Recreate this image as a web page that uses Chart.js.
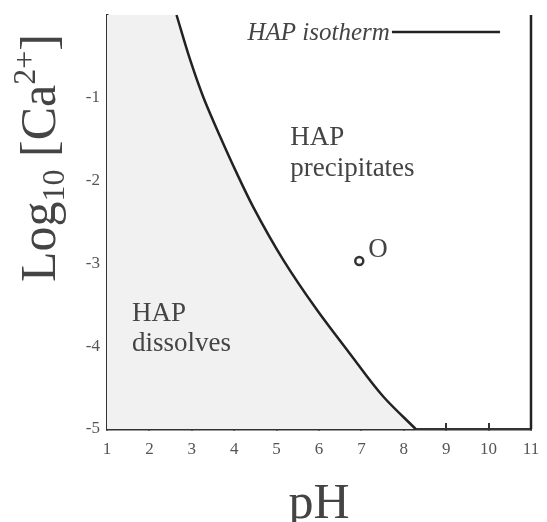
<!DOCTYPE html>
<html>
<head>
<meta charset="utf-8">
<script src="https://cdn.jsdelivr.net/npm/chart.js@4.4.1/dist/chart.umd.min.js"></script>
<style>
  html, body { margin: 0; padding: 0; background: #fff; }
  canvas { display: block; }
</style>
</head>
<body>
<canvas id="chart" width="547" height="522"></canvas>
<script>
// HAP isotherm (pH vs log10 [Ca2+])
const isoPH    = [8.28, 7.52, 6.73, 5.95, 5.16, 4.45, 4.06, 3.67, 3.27, 2.96, 2.64];
const isoLogCa = [-5.00, -4.61, -4.09, -3.56, -2.96, -2.32, -1.91, -1.47, -0.99, -0.54, 0.00];

// vertical line at pH 11
const edgePH    = [11, 11];
const edgeLogCa = [-5, 0];

// point O
const pointPH    = [6.95];
const pointLogCa = [-2.97];

// axis ranges
const phRange = [1, 11];
const caRange = [-5, 0];

// text notes placed in data units
const noteText  = ['HAP', 'precipitates', 'HAP', 'dissolves', 'O'];
const notePH    = [5.32, 5.32, 1.59, 1.59, 7.16];
const noteLogCa = [-1.57, -1.94, -3.70, -4.06, -2.92];

// legend ("HAP isotherm" + sample line)
const legendText = 'HAP isotherm';
const legendTextPH = 7.67;
const legendLine = [7.72, 10.27];
const legendLogCa = -0.205;

const SERIF = '"Liberation Serif", "DejaVu Serif", serif';

const toXY = (xs, ys) => xs.map((x, i) => ({ x: x, y: ys[i] }));

// writes the notes and the legend
const notesPlugin = {
  id: 'notes',
  afterDatasetsDraw(chart) {
    const ctx = chart.ctx;
    const xs = chart.scales.x, ys = chart.scales.y;
    ctx.save();
    ctx.fillStyle = '#444';
    ctx.textBaseline = 'alphabetic';
    ctx.textAlign = 'left';
    ctx.font = '27px ' + SERIF;
    noteText.forEach((t, i) => {
      ctx.fillText(t, xs.getPixelForValue(notePH[i]), ys.getPixelForValue(noteLogCa[i]));
    });

    // legend
    const ly = ys.getPixelForValue(legendLogCa);
    ctx.font = 'italic 25px ' + SERIF;
    ctx.textAlign = 'right';
    ctx.fillText(legendText, xs.getPixelForValue(legendTextPH), ly + 8);
    ctx.strokeStyle = '#222';
    ctx.lineWidth = 2.5;
    ctx.beginPath();
    ctx.moveTo(xs.getPixelForValue(legendLine[0]), ly);
    ctx.lineTo(xs.getPixelForValue(legendLine[1]), ly);
    ctx.stroke();
    ctx.restore();
  }
};

// y axis title with subscript / superscript
const yTitlePlugin = {
  id: 'yTitle',
  afterDraw(chart) {
    const ctx = chart.ctx;
    const parts = [
      ['Log', 50, 0],
      ['10', 32, 9],
      [' [Ca', 50, 0],
      ['2+', 32, -20],
      [']', 50, 0]
    ];
    ctx.save();
    ctx.translate(55, 282);
    ctx.rotate(-Math.PI / 2);
    ctx.fillStyle = '#444';
    ctx.textBaseline = 'alphabetic';
    ctx.textAlign = 'left';
    let x = 0;
    parts.forEach(([t, size, dy]) => {
      ctx.font = size + 'px ' + SERIF;
      ctx.fillText(t, x, dy);
      x += ctx.measureText(t).width;
    });
    ctx.restore();
  }
};

new Chart(document.getElementById('chart'), {
  type: 'line',
  data: {
    datasets: [
      {
        label: 'HAP isotherm',
        data: toXY(isoPH, isoLogCa),
        borderColor: '#222',
        borderWidth: 2.5,
        backgroundColor: '#f1f1f1',
        fill: { value: phRange[0] },
        cubicInterpolationMode: 'monotone',
        pointRadius: 0,
        clip: 4
      },
      {
        label: 'edge',
        data: toXY(edgePH, edgeLogCa),
        borderColor: '#222',
        borderWidth: 2.5,
        pointRadius: 0,
        fill: false,
        clip: 4
      },
      {
        label: 'O',
        data: toXY(pointPH, pointLogCa),
        showLine: false,
        pointRadius: 4,
        pointBorderWidth: 2.5,
        pointBorderColor: '#333',
        pointBackgroundColor: '#fff'
      }
    ]
  },
  options: {
    responsive: false,
    animation: false,
    indexAxis: 'y',
    layout: { padding: { top: 15, right: 16, left: 0, bottom: 0 } },
    plugins: {
      legend: { display: false },
      tooltip: { enabled: false }
    },
    scales: {
      x: {
        type: 'linear',
        position: 'bottom',
        min: phRange[0],
        max: phRange[1],
        afterFit: s => {
          s.height = 93;
          s.paddingLeft = 0;
          s.paddingRight = 0;
        },
        ticks: {
          stepSize: 1,
          padding: 16,
          color: '#555',
          font: { family: SERIF, size: 17 }
        },
        grid: {
          drawOnChartArea: false,
          tickLength: -6,
          lineWidth: 2,
          color: '#333'
        },
        border: { display: true, color: '#333', width: 2.5 },
        title: {
          display: true,
          text: 'pH',
          color: '#444',
          font: { family: SERIF, size: 50, lineHeight: 0.7 },
          padding: 0
        }
      },
      y: {
        type: 'linear',
        position: 'left',
        min: caRange[0],
        max: caRange[1],
        afterFit: s => {
          s.width = 107;
          s.paddingTop = 0;
          s.paddingBottom = 0;
        },
        ticks: {
          stepSize: 1,
          padding: 13,
          color: '#555',
          font: { family: SERIF, size: 17 },
          callback: v => (v === 0 ? '' : v)
        },
        grid: {
          drawOnChartArea: false,
          tickLength: -6,
          lineWidth: 2,
          color: c => (c.tick && c.tick.value === 0 ? 'rgba(0,0,0,0)' : '#333')
        },
        border: { display: true, color: '#333', width: 2.5 }
      }
    }
  },
  plugins: [notesPlugin, yTitlePlugin]
});
</script>
</body>
</html>
